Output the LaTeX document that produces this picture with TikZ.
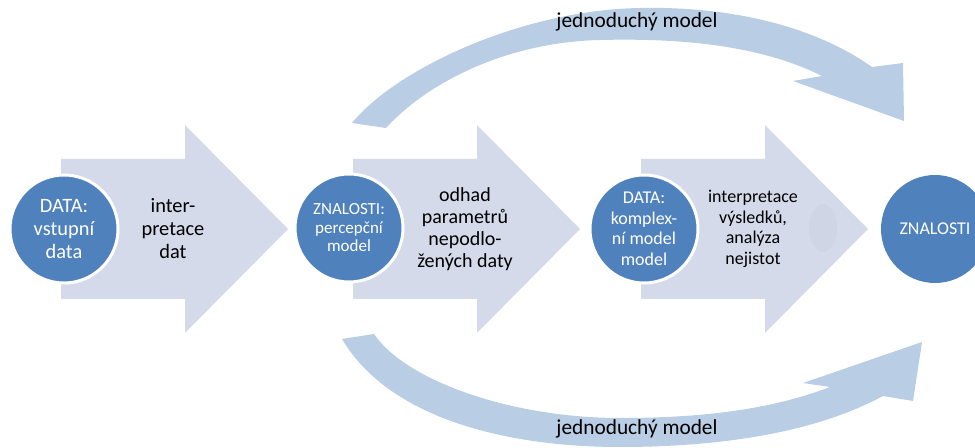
\documentclass[tikz,border=0pt]{standalone}
\usepackage{fontspec}
\setmainfont{Carlito}
\definecolor{bigarrowc}{RGB}{212,218,234}
\definecolor{circblue}{RGB}{79,129,189}
\definecolor{arcblue}{RGB}{185,205,229}
\definecolor{ghostc}{RGB}{207,213,229}
\begin{document}
\begin{tikzpicture}[x=0.75pt,y=-0.75pt,
  bigarrow/.style={fill=bigarrowc},
  arcarrow/.style={fill=arcblue},
  circ/.style={circle,fill=circblue,draw=white,line width=2.25pt,minimum size=81pt,inner sep=0pt,text=white,align=center},
  arrtext/.style={align=center,text=black},
  fA/.style={font=\fontsize{15.3}{17.25}\selectfont},
  fB/.style={font=\fontsize{15}{16.5}\selectfont},
  fC/.style={font=\fontsize{13.5}{15.4}\selectfont},
  fD/.style={font=\fontsize{12.75}{13.9}\selectfont},
  fE/.style={font=\fontsize{16}{18}\selectfont}]
\useasboundingbox (0,0) rectangle (975,448);
\clip (0,0) rectangle (975,448);

% big block arrows
\foreach \L in {61,353,641}{
  \fill[bigarrow] (\L,159) -- (\L+124,159) -- (\L+124,125) -- (\L+227,229)
     -- (\L+124,333) -- (\L+124,299) -- (\L,299) -- cycle;
}
% faint ghost shape in third arrow
\fill[ghostc] (823,228) ellipse [x radius=14, y radius=24];
\fill[gray!45] (819,221) circle [radius=0.7];
\fill[gray!45] (826,221) circle [radius=0.7];

% top curved arrow
\fill[arcarrow] (352,123) .. controls (395,70) and (520,10) .. (640,8)
   .. controls (740,6) and (820,30) .. (872,67)
   -- (903,63) -- (904,121) -- (793,81) -- (822,76)
   .. controls (760,45) and (680,38) .. (600,40)
   .. controls (510,42) and (430,80) .. (386,128) -- cycle;

% bottom curved arrow
\fill[arcarrow] (342,339) .. controls (390,420) and (510,447) .. (620,447)
   .. controls (730,447) and (820,430) .. (883,396)
   -- (913,401) -- (922,342) -- (803,383) -- (830,387)
   .. controls (770,410) and (700,418) .. (620,418)
   .. controls (510,418) and (405,380) .. (374,334) -- cycle;

% circles
\node[circ,fA] (c1) at (64,229) {DATA:\\vstupní\\data};
\node[circ,fD] (c2) at (349,228) {ZNALOSTI:\\percepční\\model};
\node[circ,fC] (c3) at (644,229) {DATA:\\komplex-\\ní model\\model};
\node[circ,fC,draw=none] (c4) at (935,229) {ZNALOSTI};

% arrow texts
\node[arrtext,fA] (t1) at (173,229) {inter-\\pretace\\dat};
\node[arrtext,fB] (t2) at (465,229) {odhad\\parametrů\\nepodlo-\\žených daty};
\node[arrtext,fC] (t3) at (753,229) {interpretace\\výsledků,\\analýza\\nejistot};

% arc labels
\node[fE] (top) at (637,22) {jednoduchý model};
\node[fE] (bot) at (637,429) {jednoduchý model};
\end{tikzpicture}
\end{document}
